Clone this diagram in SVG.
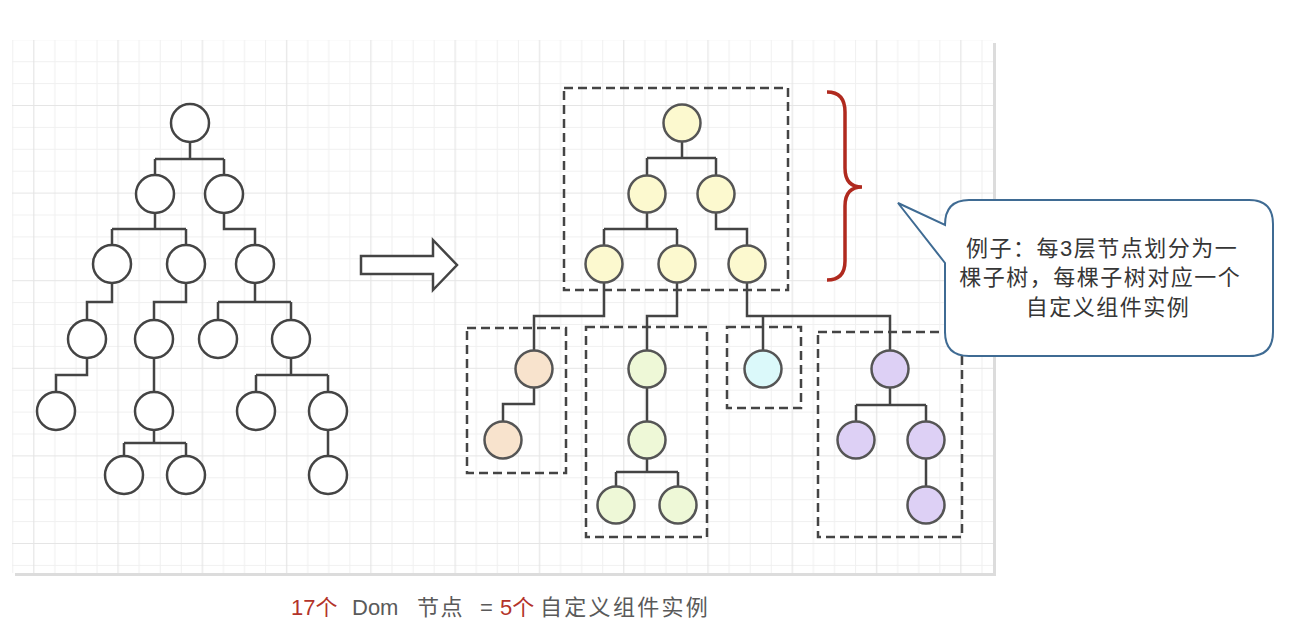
<svg xmlns="http://www.w3.org/2000/svg" width="1300" height="632" viewBox="0 0 1300 632">
<defs>
<pattern id="grid" patternUnits="userSpaceOnUse" x="12.25" y="39.3" width="84.28" height="87.6">
<path d="M0.5,0V87.6M42.64,0V87.6M63.71,0V87.6M0,0.5H84.28M0,22.4H84.28M0,44.3H84.28" stroke="#f0f0f0" stroke-width="1" fill="none"/>
<path d="M21.57,0V87.6M0,66.2H84.28" stroke="#e5e5e5" stroke-width="1.2" fill="none"/>
</pattern>
<style>
.n{stroke:#444;stroke-width:2.5;fill:#fff}
.y{fill:#fcf9cf;stroke:#555}
.o{fill:#f8e3cd;stroke:#555}
.g{fill:#eef8d7;stroke:#555}
.c{fill:#dbf9fa;stroke:#555}
.p{fill:#ddd0f5;stroke:#555}
.e{stroke:#444;stroke-width:2.5;fill:none}
.box{stroke:#444;stroke-width:2.5;fill:none;stroke-dasharray:9 5}
.t{font-family:'Liberation Sans','Noto Sans CJK SC',sans-serif}
</style>
</defs>
<rect x="15" y="43" width="981" height="533" fill="#dcdcdc"/>
<rect x="12" y="40" width="981" height="533" fill="#fff"/>
<rect x="12" y="40" width="981" height="533" fill="url(#grid)"/>

<g id="connectors">
<path class="e" d="M190,142V159M155,159H224M155,159V175M224,159V175M155,213V229M112,229H186M112,229V245M186,229V245M224,213V229H255V245M112,283V302H87V320M186,283V302H154V320M255,283V302M218,302H291M218,302V320M291,302V320M87,358V375H56V392M154,358V392M291,358V375M256,375H328M256,375V392M328,375V392M154,430V443M124,443H186M124,443V456M186,443V456M328,430V456"/>
<path class="e" d="M682,141.5V158M647,158H716M647,158V175.5M716,158V175.5M647,212.5V229M604,229H677M604,229V245.5M677,229V245.5M716,212.5V229H747V245.5"/>
<path class="e" d="M604,282.5V316H534V350.5M677,282.5V316H647V350.5M747,282.5V316H890V350.5M763,316V350.5M534,387.5V404H503V421.5M647,387.5V421.5M647,458.5V472M616,472H678M616,472V486.5M678,472V486.5M890,387.5V405M856,405H926M856,405V421.5M926,405V421.5M926,458.5V486.5"/>
</g>

<g id="left-tree">
<circle id="l1" class="n" cx="190" cy="123" r="19"/>
<circle id="l2a" class="n" cx="155" cy="194" r="19"/>
<circle id="l2b" class="n" cx="224" cy="194" r="19"/>
<circle id="l3a" class="n" cx="112" cy="264" r="19"/>
<circle id="l3b" class="n" cx="186" cy="264" r="19"/>
<circle id="l3c" class="n" cx="255" cy="264" r="19"/>
<circle id="l4a" class="n" cx="87" cy="339" r="19"/>
<circle id="l4b" class="n" cx="154" cy="339" r="19"/>
<circle id="l4c" class="n" cx="218" cy="339" r="19"/>
<circle id="l4d" class="n" cx="291" cy="339" r="19"/>
<circle id="l5a" class="n" cx="56" cy="411" r="19"/>
<circle id="l5b" class="n" cx="154" cy="411" r="19"/>
<circle id="l5c" class="n" cx="256" cy="411" r="19"/>
<circle id="l5d" class="n" cx="328" cy="411" r="19"/>
<circle id="l6a" class="n" cx="124" cy="475" r="19"/>
<circle id="l6b" class="n" cx="186" cy="475" r="19"/>
<circle id="l6c" class="n" cx="328" cy="475" r="19"/>
</g>

<g id="arrow">
<polygon class="n" points="361,256 433,256 433,240 457,265 433,290 433,274 361,274"/>
</g>

<g id="subtree-top">
<rect class="box" x="564" y="88" width="224" height="202"/>
<circle class="n y" cx="682" cy="123" r="18.5"/>
<circle class="n y" cx="647" cy="194" r="18.5"/>
<circle class="n y" cx="716" cy="194" r="18.5"/>
<circle class="n y" cx="604" cy="264" r="18.5"/>
<circle class="n y" cx="677" cy="264" r="18.5"/>
<circle class="n y" cx="747" cy="264" r="18.5"/>
</g>

<g id="subtree-orange">
<rect class="box" x="467" y="328" width="99" height="145"/>
<circle class="n o" cx="534" cy="369" r="18.5"/>
<circle class="n o" cx="503" cy="440" r="18.5"/>
</g>

<g id="subtree-green">
<rect class="box" x="586" y="327" width="121" height="210"/>
<circle class="n g" cx="647" cy="369" r="18.5"/>
<circle class="n g" cx="647" cy="440" r="18.5"/>
<circle class="n g" cx="616" cy="505" r="18.5"/>
<circle class="n g" cx="678" cy="505" r="18.5"/>
</g>

<g id="subtree-cyan">
<rect class="box" x="727" y="327" width="74" height="81"/>
<circle class="n c" cx="763" cy="369" r="18.5"/>
</g>

<g id="subtree-purple">
<rect class="box" x="818" y="332" width="144" height="205"/>
<circle class="n p" cx="890" cy="369" r="18.5"/>
<circle class="n p" cx="856" cy="440" r="18.5"/>
<circle class="n p" cx="926" cy="440" r="18.5"/>
<circle class="n p" cx="926" cy="505" r="18.5"/>
</g>

<g id="brace">
<path d="M827,92Q845,92 845,112V168Q845,187 862,187Q845,187 845,206V261Q845,280 827,280" fill="none" stroke="#b02a1f" stroke-width="3.5"/>
</g>

<g id="callout">
<path d="M969,200H1249Q1273,200 1273,224V332Q1273,356 1249,356H969Q945,356 945,332V263L898,203L945,225Q945,200 969,200Z" fill="#fff" stroke="#3f6b93" stroke-width="2"/>
<text class="t" font-size="22" letter-spacing="1.5" fill="#363636" text-anchor="middle">
<tspan x="1106" y="256">例子：每3层节点划分为一</tspan>
<tspan x="1104" y="285">棵子树，每棵子树对应一个</tspan>
<tspan x="1108" y="315">自定义组件实例</tspan>
</text>
</g>

<g id="caption">
<text class="t" y="615" font-size="22" fill="#5a5a5a">
<tspan x="291" fill="#b3332a">17个</tspan><tspan x="352">Dom</tspan><tspan x="417" letter-spacing="1.5">节点</tspan><tspan x="480">=</tspan><tspan x="500" fill="#b3332a">5个</tspan><tspan x="540" letter-spacing="2.3">自定义组件实例</tspan>
</text>
</g>
</svg>
